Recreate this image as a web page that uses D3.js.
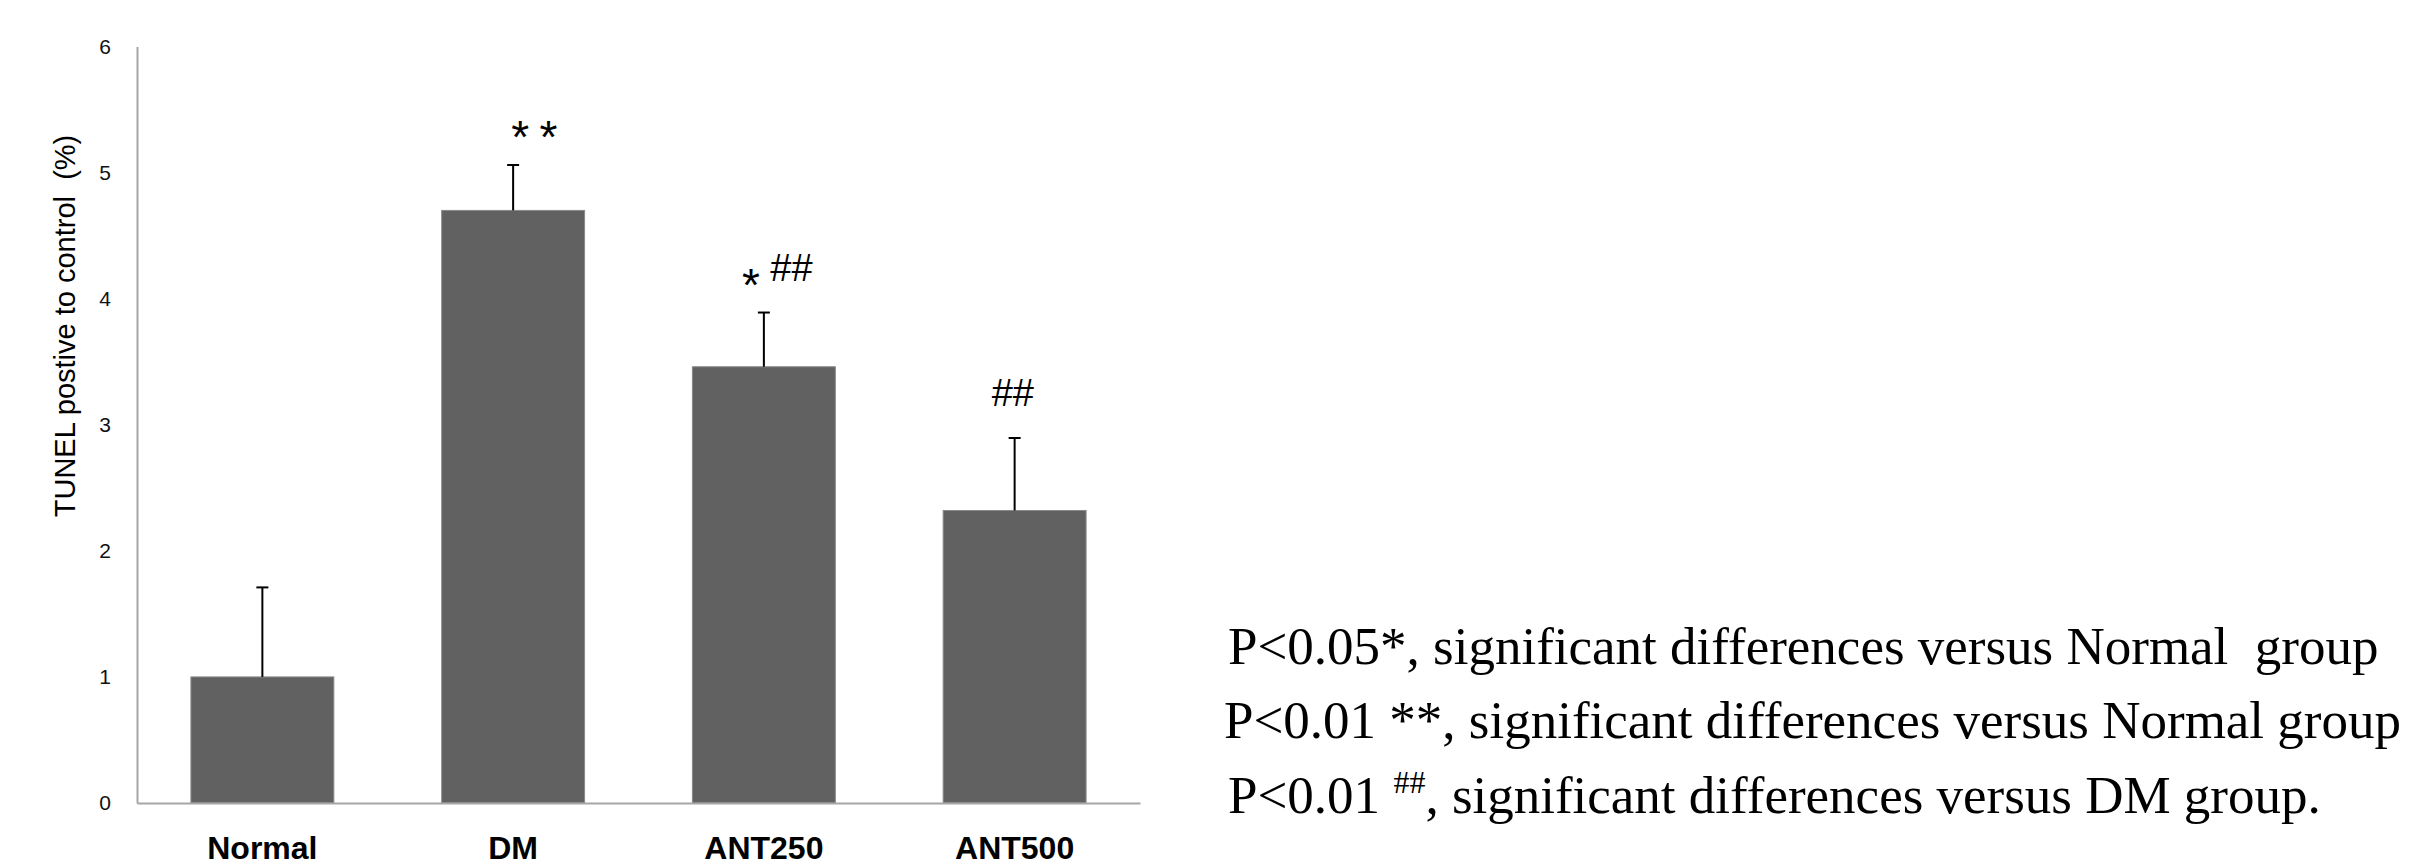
<!DOCTYPE html>
<html>
<head>
<meta charset="utf-8">
<script src="https://cdn.jsdelivr.net/npm/d3@7"></script>
<style>
  html, body { margin: 0; padding: 0; background: #ffffff; }
  svg { display: block; }
</style>
</head>
<body>
<script>
// ---- data ----
const categories = ["Normal", "DM", "ANT250", "ANT500"];
const values = [1.0, 4.70, 3.46, 2.32];
const errors = [0.71, 0.36, 0.43, 0.575];
const annotations = ["", "* *", "* ##", "##"];
const yTicks = [0, 1, 2, 3, 4, 5, 6];
const yTitle = "TUNEL postive to control  (%)";
const notes = [
  [{t: "P<0.05*, significant differences versus Normal  group"}],
  [{t: "P<0.01 **, significant differences versus Normal group"}],
  [{t: "P<0.01 "}, {t: "##", sup: true}, {t: ", significant differences versus DM group."}]
];

// ---- layout ----
const W = 2415, H = 867;
const svg = d3.select("body").append("svg").attr("width", W).attr("height", H);
svg.append("rect").attr("width", W).attr("height", H).attr("fill", "#ffffff");

const x = d3.scaleBand().domain(categories).range([137, 1140]).paddingInner(0.43).paddingOuter(0.215);
const y = d3.scaleLinear().domain([0, 6]).range([803, 46.5]);

// y axis
const yAxis = svg.append("g").attr("transform", "translate(137,0)")
  .call(d3.axisLeft(y).tickValues(yTicks).tickFormat(d3.format("d")).tickSizeInner(0).tickSizeOuter(0).tickPadding(26));
yAxis.select(".domain").attr("stroke", "#a6a6a6").attr("stroke-width", 2);
yAxis.selectAll("text").attr("font-family", "Liberation Sans, Arial, sans-serif").attr("font-size", 21).attr("fill", "#111");

// bars
svg.append("g").selectAll("rect").data(categories).join("rect")
  .attr("x", d => x(d))
  .attr("y", (d, i) => y(values[i]))
  .attr("width", x.bandwidth())
  .attr("height", (d, i) => y(0) - y(values[i]))
  .attr("fill", "#616161")
  .attr("stroke", "#8a8a8a")
  .attr("stroke-width", 1);

// x axis
const xAxis = svg.append("g").attr("transform", "translate(0,803)")
  .call(d3.axisBottom(x).tickSizeInner(0).tickSizeOuter(0).tickPadding(0));
xAxis.select(".domain").attr("stroke", "#a6a6a6").attr("stroke-width", 2);
xAxis.selectAll("text")
  .attr("dy", null).attr("y", 56)
  .attr("font-family", "Liberation Sans, Arial, sans-serif")
  .attr("font-size", 32).attr("font-weight", "bold").attr("fill", "#000");

// error bars
const eb = svg.append("g").attr("stroke", "#000").attr("stroke-width", 2);
categories.forEach((c, i) => {
  const cx = x(c) + x.bandwidth() / 2;
  eb.append("line").attr("x1", cx).attr("x2", cx).attr("y1", y(values[i])).attr("y2", y(values[i] + errors[i]));
  eb.append("line").attr("x1", cx - 6).attr("x2", cx + 6).attr("y1", y(values[i] + errors[i])).attr("y2", y(values[i] + errors[i]));
});

// significance annotations
const annotDx = [0, -2, -22, -23];
categories.forEach((c, i) => {
  const s = annotations[i];
  if (!s) return;
  const cx = x(c) + x.bandwidth() / 2 + annotDx[i];
  const t = svg.append("text")
    .attr("x", cx).attr("y", y(values[i] + errors[i]) - 32)
    .attr("font-family", "Liberation Sans, Arial, sans-serif")
    .attr("font-size", 38).attr("fill", "#000")
    .style("white-space", "pre");
  let shifted = false;
  for (const ch of s) {
    const sp = t.append("tspan").text(ch);
    if (ch === "*") {
      sp.attr("font-size", 46);
      if (!shifted) { sp.attr("dy", 20); shifted = true; }
    } else if (ch !== " " && shifted) {
      sp.attr("dy", -20); shifted = false;
    }
  }
});

// y title
svg.append("text")
  .attr("transform", "translate(75,326) rotate(-90)")
  .attr("text-anchor", "middle")
  .attr("font-family", "Liberation Sans, Arial, sans-serif")
  .attr("font-size", 29).attr("fill", "#000")
  .style("white-space", "pre")
  .text(yTitle);

// notes
const noteX = [1228, 1224, 1228];
const noteY = [664, 738, 813];
notes.forEach((parts, i) => {
  const t = svg.append("text")
    .attr("x", noteX[i]).attr("y", noteY[i])
    .attr("font-family", "Liberation Serif, Times New Roman, serif")
    .attr("font-size", 53).attr("fill", "#000")
    .style("white-space", "pre");
  let raised = false;
  parts.forEach(p => {
    const sp = t.append("tspan").text(p.t);
    if (p.sup) { sp.attr("font-size", 32).attr("dy", -20); raised = true; }
    else if (raised) { sp.attr("dy", 20); raised = false; }
  });
});
</script>
</body>
</html>
